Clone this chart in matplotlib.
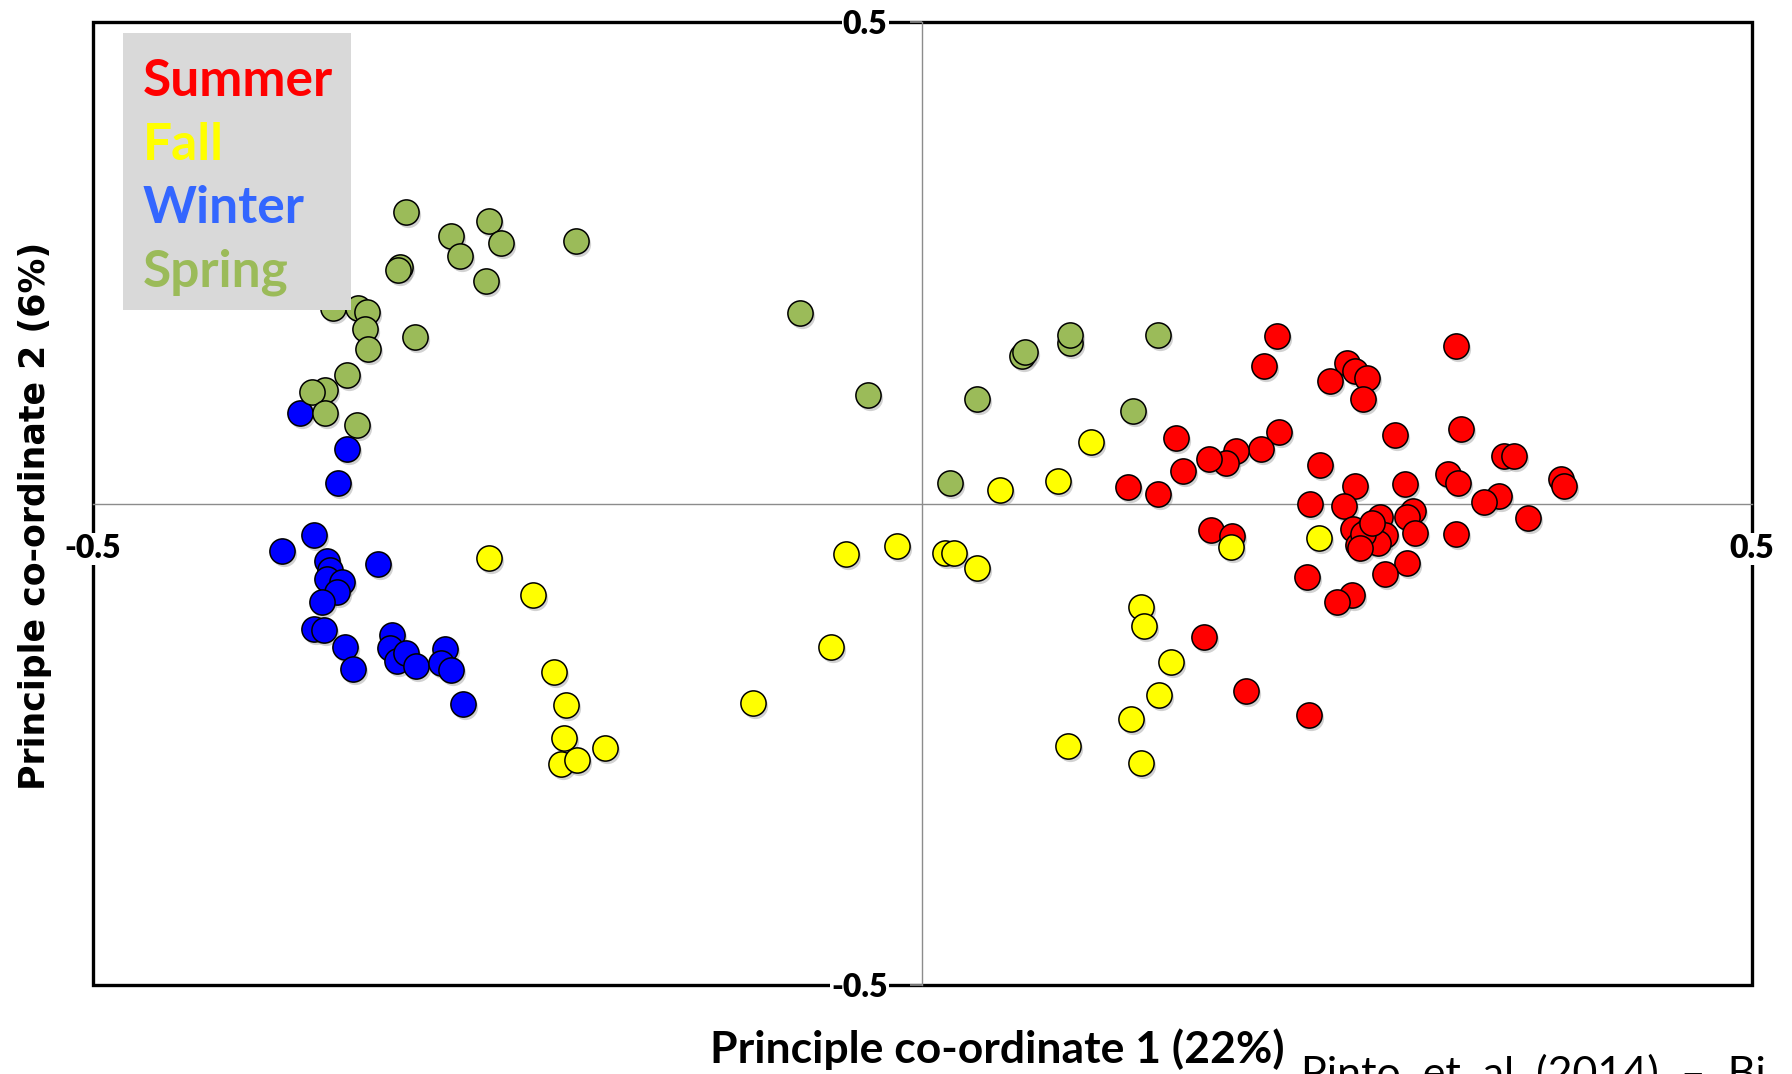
import matplotlib
matplotlib.use('Agg')
import matplotlib.pyplot as plt
from matplotlib.patches import Rectangle
from matplotlib.transforms import offset_copy

# 계절별 PCoA 좌표
seasons = ['Summer', 'Fall', 'Winter', 'Spring']
point_colors = ['#ff0000', '#ffff00', '#0000ff', '#9bbb59']
legend_colors = ['#ff0000', '#ffff00', '#3366ff', '#9bbb59']

summer_x = [0.214, 0.206, 0.256, 0.261, 0.268, 0.246, 0.266, 0.322, 0.153, 0.215,
            0.204, 0.189, 0.183, 0.173, 0.157, 0.124, 0.142, 0.285, 0.325, 0.240,
            0.261, 0.291, 0.317, 0.323, 0.351, 0.357, 0.385, 0.387, 0.348, 0.339,
            0.365, 0.234, 0.254, 0.296, 0.292, 0.276, 0.260, 0.269, 0.273, 0.279,
            0.263, 0.275, 0.297, 0.322, 0.174, 0.187, 0.232, 0.292, 0.279, 0.259,
            0.250, 0.170, 0.195, 0.233, 0.266, 0.271, 0.264]
summer_y = [0.174, 0.143, 0.146, 0.138, 0.131, 0.128, 0.109, 0.164, 0.068, 0.074,
            0.057, 0.055, 0.042, 0.046, 0.034, 0.017, 0.010, 0.071, 0.078, 0.040,
            0.018, 0.020, 0.031, 0.022, 0.050, 0.050, 0.026, 0.018, 0.008, 0.002,
            -0.015, 0.000, -0.002, -0.008, -0.014, -0.014, -0.026, -0.027, -0.027, -0.033,
            -0.043, -0.041, -0.030, -0.031, -0.027, -0.034, -0.076, -0.062, -0.073, -0.095,
            -0.102, -0.138, -0.195, -0.220, -0.031, -0.020, -0.046]

fall_x = [-0.261, -0.235, -0.222, -0.215, -0.216, -0.218, -0.208, -0.191, -0.102, -0.055,
          -0.046, -0.015, 0.014, 0.019, 0.033, 0.047, 0.082, 0.102, 0.132, 0.134,
          0.150, 0.143, 0.126, 0.088, 0.132, 0.186, 0.239]
fall_y = [-0.056, -0.095, -0.175, -0.209, -0.243, -0.270, -0.266, -0.254, -0.207, -0.149,
          -0.052, -0.044, -0.051, -0.051, -0.067, 0.014, 0.024, 0.064, -0.107, -0.127,
          -0.164, -0.199, -0.224, -0.252, -0.269, -0.045, -0.036]

winter_x = [-0.375, -0.347, -0.352, -0.386, -0.367, -0.359, -0.357, -0.359, -0.350, -0.353,
            -0.362, -0.328, -0.367, -0.361, -0.348, -0.343, -0.320, -0.321, -0.317, -0.311,
            -0.305, -0.288, -0.290, -0.284, -0.277]
winter_y = [0.094, 0.057, 0.021, -0.049, -0.032, -0.060, -0.069, -0.078, -0.081, -0.092,
            -0.102, -0.063, -0.130, -0.131, -0.149, -0.172, -0.136, -0.150, -0.163, -0.155,
            -0.169, -0.151, -0.165, -0.173, -0.208]

spring_x = [-0.311, -0.284, -0.261, -0.254, -0.279, -0.209, -0.315, -0.316, -0.263, -0.355,
            -0.340, -0.335, -0.336, -0.334, -0.306, -0.347, -0.360, -0.368, -0.360, -0.341,
            -0.074, -0.033, 0.033, 0.060, 0.062, 0.089, 0.089, 0.142, 0.127, 0.017]
spring_y = [0.303, 0.278, 0.294, 0.271, 0.257, 0.273, 0.246, 0.243, 0.231, 0.203,
            0.203, 0.199, 0.182, 0.161, 0.173, 0.134, 0.118, 0.116, 0.094, 0.082,
            0.198, 0.113, 0.109, 0.153, 0.158, 0.167, 0.175, 0.175, 0.096, 0.021]

ticks = [-0.5, 0.5]
tick_labels = ['-0.5', '0.5']

xs = [summer_x, fall_x, winter_x, spring_x]
ys = [summer_y, fall_y, winter_y, spring_y]

fig = plt.figure(figsize=(17.92, 10.74), dpi=100)
ax = fig.add_axes([0.0519, 0.0829, 0.9255, 0.8962])
ax.set_xlim(-0.5, 0.5)
ax.set_ylim(-0.5, 0.5)

# 가운데 십자선 = 원점 축, 바깥 테두리는 검은 사각형
for side in ['left', 'bottom']:
    ax.spines[side].set_position(('data', 0))
    ax.spines[side].set_color('#8c8c8c')
    ax.spines[side].set_linewidth(1.0)
for side in ['top', 'right']:
    ax.spines[side].set_visible(False)
ax.add_patch(Rectangle((0, 0), 1, 1, transform=ax.transAxes, fill=False,
                       edgecolor='black', linewidth=2.4, clip_on=False, zorder=2))

ax.set_xticks(ticks, tick_labels)
ax.set_yticks(ticks, tick_labels)
ax.tick_params(axis='x', length=0, pad=22)
ax.tick_params(axis='y', length=9, width=1.2, color='#8c8c8c', pad=16)
for lab in ax.get_xticklabels() + ax.get_yticklabels():
    lab.set_fontsize(23)
    lab.set_fontweight('heavy')
    lab.set_family('Lato')
    lab.set_bbox(dict(facecolor='white', edgecolor='none', pad=1))
ax.xaxis.set_zorder(5)
ax.yaxis.set_zorder(5)

# 점 그림자 + 점
shadow = offset_copy(ax.transData, fig=fig, x=2, y=-3, units='dots')
for x, y in zip(xs, ys):
    ax.scatter(x, y, s=330, color='#7f7f7f', alpha=0.35, linewidths=0,
               transform=shadow, zorder=2.8)
for x, y, c in zip(xs, ys, point_colors):
    ax.scatter(x, y, s=330, color=c, edgecolors='black', linewidths=1.1, zorder=3)

# 범례 박스
ax.add_patch(Rectangle((0.0183, 0.7015), 0.1372, 0.2874, transform=ax.transAxes,
                       facecolor='#d9d9d9', edgecolor='none', zorder=6))
for i, (name, c) in enumerate(zip(seasons, legend_colors)):
    ax.text(0.0301, 0.9235 - i * 0.066, name, color=c, transform=ax.transAxes,
            fontsize=37, fontweight='bold', family='Lato', va='baseline', zorder=7)

fig.text(0.0198, 0.520, 'Principle co-ordinate 2 (6%)', rotation=90, ha='center', va='center',
         fontsize=25, fontweight='bold', family='DejaVu Sans')
fig.text(0.5565, 0.0102, 'Principle co-ordinate 1 (22%)', ha='center', va='baseline',
         fontsize=32, fontweight='bold', family='Lato')
fig.text(0.726, -0.012, 'Pinto  et  al  (2014)  \u2013  Bi', ha='left', va='baseline',
         fontsize=31, family='Lato')

fig.savefig('out.png', dpi=100)
